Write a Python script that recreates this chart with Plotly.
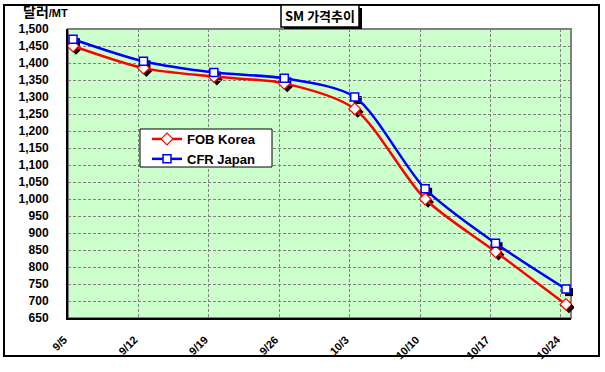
import plotly.graph_objects as go

# ---- data ----
dates = ["2008-09-05", "2008-09-12", "2008-09-19", "2008-09-26",
         "2008-10-03", "2008-10-10", "2008-10-17", "2008-10-24"]
tick_labels = ["9/5", "9/12", "9/19", "9/26", "10/3", "10/10", "10/17", "10/24"]
fob_korea = [1450, 1385, 1360, 1340, 1265, 1000, 845, 690]
cfr_japan = [1470, 1405, 1372, 1355, 1300, 1030, 870, 735]
series_names = ["FOB Korea", "CFR Japan"]

# points sit mid-day on each date
xs = [d + " 12:00" for d in dates]

# ---- geometry helpers (pixel -> paper) ----
W_FIG, H_FIG = 605, 372
ML, MT = 68, 29
PW, PH = 506, 292          # total plotting region (includes 3px shadow offset)
OFF = 3
MR = W_FIG - ML - PW
MB = H_FIG - MT - PH


def px(x):
    return (x - ML) / PW


def py(y):
    return (MT + PH - y) / PH


FONT = "Liberation Sans, Arial, sans-serif"
KFONT = "Noto Sans CJK KR, sans-serif"

RED = "#FF0000"
BLUE = "#0000FF"

fig = go.Figure()

# shadow markers (on offset axes)
for ys, sym, sz in [(fob_korea, "diamond", 9), (cfr_japan, "square", 8)]:
    fig.add_trace(go.Scatter(
        x=xs, y=ys, mode="markers", xaxis="x", yaxis="y", showlegend=False,
        hoverinfo="skip",
        marker=dict(symbol=sym, size=sz, color="black", line=dict(width=0)),
    ))

# main series
fig.add_trace(go.Scatter(
    x=xs, y=fob_korea, name=series_names[0], mode="lines+markers",
    xaxis="x2", yaxis="y2",
    line=dict(color=RED, width=2.5, shape="spline", smoothing=0.8),
    marker=dict(symbol="diamond", size=9, color="white", line=dict(color=RED, width=1.2)),
))
fig.add_trace(go.Scatter(
    x=xs, y=cfr_japan, name=series_names[1], mode="lines+markers",
    xaxis="x2", yaxis="y2",
    line=dict(color=BLUE, width=2.5, shape="spline", smoothing=0.8),
    marker=dict(symbol="square", size=8, color="white", line=dict(color=BLUE, width=1.5)),
))

xrange = ["2008-09-05", "2008-10-25"]
yrange = [650, 1500]

main_xdom = [0, (PW - OFF) / PW]
main_ydom = [OFF / PH, 1]
sh_xdom = [OFF / PW, 1]
sh_ydom = [0, (PH - OFF) / PH]

tickfont = dict(family=FONT, size=12, color="black", weight="bold")

fig.update_layout(
    template="none",
    width=W_FIG, height=H_FIG,
    margin=dict(l=ML, r=MR, t=MT, b=MB, pad=0, autoexpand=False),
    paper_bgcolor="white",
    plot_bgcolor="rgba(0,0,0,0)",
    showlegend=True,
    xaxis=dict(domain=sh_xdom, anchor="y", type="date", range=xrange,
               visible=False, showgrid=False, zeroline=False, automargin=False),
    yaxis=dict(domain=sh_ydom, anchor="x", range=yrange,
               visible=False, showgrid=False, zeroline=False, automargin=False),
    xaxis2=dict(domain=main_xdom, anchor="y2", type="date", range=xrange,
                tickvals=dates, ticktext=tick_labels, tickangle=-45,
                tickfont=dict(family=FONT, size=11, color="black", weight="bold"),
                showgrid=True, gridcolor="#808080", griddash="3px,2px", gridwidth=1,
                zeroline=False, showline=True, linecolor="black", linewidth=2,
                ticks="", ticklabelstandoff=9, ticklabelshift=-4, automargin=False),
    yaxis2=dict(domain=main_ydom, anchor="x2", range=yrange,
                tick0=650, dtick=50, tickformat=",d",
                tickfont=tickfont,
                showgrid=True, gridcolor="#808080", griddash="3px,2px", gridwidth=1,
                zeroline=False, showline=True, linecolor="black", linewidth=2,
                ticks="", ticklabelstandoff=15, automargin=False),
    legend=dict(x=px(147), y=py(124), xanchor="left", yanchor="top",
                bgcolor="rgba(0,0,0,0)", borderwidth=0,
                font=dict(family=FONT, size=13, color="black", weight="bold"),
                tracegroupgap=0, itemwidth=30),
)

shapes = [
    # plot background
    dict(type="rect", xref="paper", yref="paper", layer="below",
         x0=px(68), x1=px(571), y0=py(318), y1=py(29),
         fillcolor="#CCFFCC", line=dict(width=0)),
    # plot frame
    dict(type="rect", xref="paper", yref="paper", layer="below",
         x0=px(68), x1=px(571), y0=py(318), y1=py(29),
         line=dict(color="#808080", width=2)),
    # legend box
    dict(type="rect", xref="paper", yref="paper", layer="above",
         x0=px(140), x1=px(272), y0=py(167), y1=py(129),
         fillcolor="white", line=dict(color="black", width=1)),
    # outer chart border
    dict(type="rect", xref="paper", yref="paper", layer="above",
         x0=px(4), x1=px(599), y0=py(356), y1=py(5),
         line=dict(color="black", width=2)),
    # title box shadow
    dict(type="rect", xref="paper", yref="paper", layer="above",
         x0=px(284), x1=px(362), y0=py(29), y1=py(8),
         fillcolor="black", line=dict(width=0)),
    # title box
    dict(type="rect", xref="paper", yref="paper", layer="above",
         x0=px(281), x1=px(359), y0=py(27), y1=py(5),
         fillcolor="white", line=dict(color="black", width=1.5)),
]
fig.update_layout(shapes=shapes)

fig.add_annotation(xref="paper", yref="paper", x=px(320), y=py(16),
                   xanchor="center", yanchor="middle", showarrow=False,
                   text="SM 가격추이",
                   font=dict(family=KFONT, size=13, color="black", weight="bold"))
fig.add_annotation(xref="paper", yref="paper", x=px(21), y=py(23),
                   xanchor="left", yanchor="bottom", showarrow=False,
                   text="<span style='font-size:14px'>달러</span>"
                        "<span style='font-size:11px;font-family:Liberation Sans'>/MT</span>",
                   font=dict(family=KFONT, size=14, color="black", weight="bold"))

fig.write_html("out.html",
               config={"displayModeBar": False},
               post_script="document.body.style.margin='0';document.body.style.overflow='hidden';")
